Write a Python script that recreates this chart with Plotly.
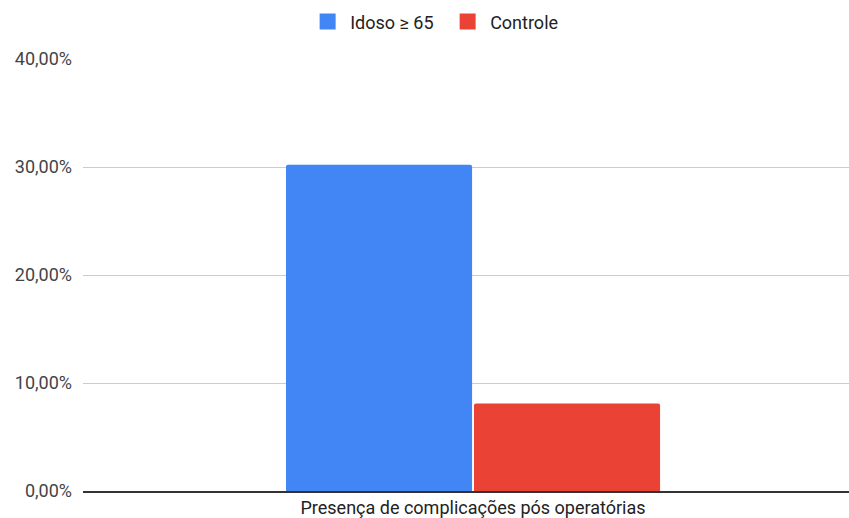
import plotly.graph_objects as go

categories = ["Presença de complicações pós operatórias"]
idoso = [0.302]
controle = [0.081]
series_names = ["Idoso ≥ 65", "Controle"]
series_colors = ["#4285f4", "#ea4335"]
y_ticks = [0, 0.1, 0.2, 0.3, 0.4]

fig = go.Figure()
for name, vals, color in zip(series_names, [idoso, controle], series_colors):
    fig.add_trace(go.Bar(x=categories, y=vals, name=name, showlegend=False,
                         marker=dict(color=color, line=dict(width=0))))
# square legend keys
for name, color in zip(series_names, series_colors):
    fig.add_trace(go.Scatter(x=[None], y=[None], mode="markers", name=name,
                             marker=dict(symbol="square", size=16, color=color)))

fig.update_layout(
    width=849, height=518,
    margin=dict(l=83, r=0, t=59, b=27),
    paper_bgcolor="white", plot_bgcolor="white",
    font=dict(family="Roboto, Arial, sans-serif", size=18, color="#444444"),
    separators=",.",
    barmode="group",
    bargap=0.518,
    bargroupgap=0.01,
    barcornerradius=2,
    showlegend=True,
    legend=dict(orientation="h", x=0.29, xanchor="left", y=1.043, yanchor="bottom",
                font=dict(size=18, color="#222222"), itemwidth=35,
                entrywidth=90, traceorder="normal"),
    xaxis=dict(range=[-0.5, 0.482], showgrid=False, showline=True,
               linecolor="#333333", linewidth=1.5, ticks="",
               tickfont=dict(size=18, color="#222222")),
    yaxis=dict(range=[0, 0.4], tickvals=y_ticks, tickformat=".2%",
               showgrid=True, gridcolor="#cccccc", gridwidth=1,
               zeroline=False, showline=False, ticks="",
               ticklabelstandoff=10,
               tickfont=dict(size=18, color="#444444")),
)

fig.write_html("out.html")
